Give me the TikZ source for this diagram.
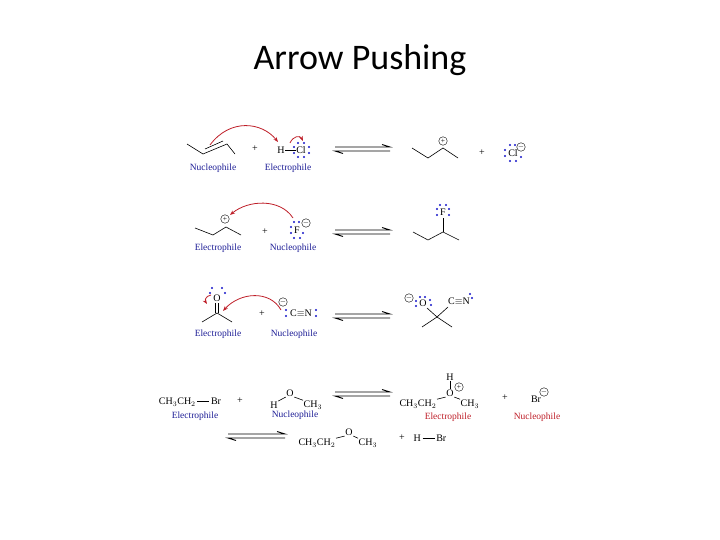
\documentclass[tikz,border=0pt]{standalone}
\usepackage{fontspec}
\setmainfont{Liberation Serif}
\newfontfamily\titlefont{Carlito}
\usetikzlibrary{arrows.meta}
\definecolor{lblue}{RGB}{30,30,150}
\definecolor{dblue}{RGB}{20,20,200}
\definecolor{lred}{RGB}{190,30,40}
\tikzset{
 bond/.style={line width=0.6pt},
 lab/.style={font=\fontsize{9.5}{10}\selectfont, text=lblue, inner sep=0pt},
 rlab/.style={font=\fontsize{9.5}{10}\selectfont, text=lred, inner sep=0pt},
 atm/.style={font=\fontsize{10}{10}\selectfont, inner sep=0.5pt},
 rarr/.style={draw=lred, line width=0.8pt, -{Stealth[length=5pt]}},
 chg/.style={circle, draw, inner sep=0pt, minimum size=8.5pt, font=\fontsize{7.5}{7.5}\selectfont},
}
\newcommand{\eqarr}[3]{%
 \draw[line width=0.9pt] (#1,#3-2) -- (#2,#3-2) -- (#2-8,#3-4.5);
 \draw[line width=0.9pt] (#2,#3+2) -- (#1,#3+2) -- (#1+8,#3+4.5);}
\newcommand{\dt}[2]{\fill[dblue] (#1,#2) circle (1.2pt);}
\begin{document}
\begin{tikzpicture}[x=1pt,y=-1pt]
\useasboundingbox (0,0) rectangle (720,540);
\node[font=\titlefont\fontsize{36}{40}\selectfont] (title) at (360,60) {Arrow Pushing};
% Row 1
\draw[bond] (187,144)--(203,154)--(227,144)--(235,154);
\draw[bond] (205,149)--(223,141);
\node[lab] (n1) at (213,168) {Nucleophile};
\node[atm] (p1) at (255,149) {+};
\node[atm] (h1) at (281,150) {H};
\node[atm] (cl1) at (301,150) {Cl};
\draw[bond] (h1.east)--(cl1.west);
\dt{294}{147}\dt{294}{153}\dt{309}{147}\dt{309}{153}\dt{298}{157}\dt{304}{157}\dt{298}{143}\dt{304}{143}
\node[lab] (e1) at (288,168) {Electrophile};
\draw[rarr] (210,145) .. controls (230,118) and (262,122) .. (278,142);
\draw[rarr] (290,143) .. controls (293,136) and (300,135) .. (303,141);
\eqarr{335}{390}{149}
\draw[bond] (412,148)--(428,158)--(443,148)--(458,158);
\node[chg] (c1) at (443,141) {+};
\node[atm] (p2) at (482,153) {+};
\node[atm] (cl2) at (513,153) {Cl};
\dt{505}{150}\dt{505}{156}\dt{521}{157}\dt{510}{161}\dt{516}{161}\dt{510}{145}\dt{515}{145}
\node[chg] (m1) at (521,147) {$-$};
% Row 2
\draw[bond] (195,228)--(213,235)--(226,227)--(241,235);
\node[chg] (c2) at (225,219) {+};
\node[lab] (e2) at (218,248) {Electrophile};
\node[atm] (p3) at (265,232) {+};
\node[atm] (f1) at (297,230) {F};
\dt{291}{227}\dt{291}{233}\dt{303}{233}\dt{294}{238}\dt{300}{238}\dt{294}{222}\dt{299}{222}
\node[chg] (m2) at (306,223) {$-$};
\node[lab] (n2) at (293,248) {Nucleophile};
\draw[rarr] (293,218) .. controls (280,198) and (248,200) .. (230,215);
\eqarr{335}{390}{232}
\draw[bond] (413,232)--(428,240)--(443,232)--(459,240);
\draw[bond] (443,232)--(443,218);
\node[atm] (f2) at (443,212) {F};
\dt{437}{209}\dt{437}{215}\dt{449}{209}\dt{449}{215}\dt{440}{205}\dt{446}{205}
% Row 3
\draw[bond] (202,322)--(217,313)--(232,322);
\draw[bond] (215.5,313)--(215.5,303); \draw[bond] (218.5,313)--(218.5,303);
\node[atm] (o1) at (217,298) {O};
\dt{210}{293}\dt{212}{288}\dt{222}{288}\dt{225}{293}
\draw[rarr] (211,295) .. controls (205,296) and (205,301) .. (207,304);
\node[lab] (e3) at (218,334) {Electrophile};
\node[atm] (p4) at (262,314) {+};
\node[chg] (m3) at (283,302) {$-$};
\node[atm] (cn) at (301,313) {C$\equiv$N};
\dt{286}{310}\dt{286}{316}\dt{316}{310}\dt{316}{316}
\node[lab] (n3) at (294,334) {Nucleophile};
\draw[rarr] (281,310) .. controls (270,290) and (240,292) .. (223,311);
\eqarr{335}{390}{316}
\draw[bond] (422,327)--(437,317)--(452,327);
\draw[bond] (437,317)--(427,308);
\draw[bond] (437,317)--(448,307);
\node[atm] (o2) at (423,303) {O};
\node[chg] (m4) at (409,298) {$-$};
\dt{416}{301}\dt{416}{306}\dt{420}{297}\dt{425}{297}\dt{430}{300}\dt{431}{305}
\node[atm] (cn2) at (459,301) {C$\equiv$N};
\dt{470}{294}\dt{472}{298}
% Row 4
\node[atm] (r1) at (190,402) {CH$_3$CH$_2$\,\rule[3pt]{12pt}{0.5pt}\,Br};
\node[lab] (e4) at (195,416) {Electrophile};
\node[atm] (p5) at (240,401) {+};
\node[atm] (h4) at (274,405) {H};
\node[atm] (o4) at (290,393) {O};
\node[atm, anchor=west] (me4) at (303,405) {CH$_3$};
\draw[bond] (h4.north east)--(o4.south west); \draw[bond] (o4.south east)--(me4.north west);
\node[lab] (n4) at (295,415) {Nucleophile};
\eqarr{335}{390}{394}
\node[atm, anchor=east] (et5) at (437,404) {CH$_3$CH$_2$};
\node[atm] (o5) at (450,393) {O};
\node[atm, anchor=west] (me5) at (460,404) {CH$_3$};
\node[atm] (h5) at (450,377) {H};
\draw[bond] (et5.north east)--(o5.south west); \draw[bond] (o5.south east)--(me5.north west);
\draw[bond] (h5.south)--(o5.north);
\node[chg] (c5) at (459,387) {+};
\node[rlab] (e5) at (448,417) {Electrophile};
\node[atm] (p6) at (505,398) {+};
\node[atm] (br) at (536,399) {Br};
\node[chg] (m5) at (544,392) {$-$};
\node[rlab] (n5) at (537,417) {Nucleophile};
% Row 5
\eqarr{228}{285}{436}
\node[atm, anchor=east] (et6) at (336,443) {CH$_3$CH$_2$};
\node[atm] (o6) at (349,432) {O};
\node[atm, anchor=west] (me6) at (358,443) {CH$_3$};
\draw[bond] (et6.north east)--(o6.south west); \draw[bond] (o6.south east)--(me6.north west);
\node[atm] (p7) at (402,438) {+};
\node[atm] (hbr) at (430,438) {H\,\rule[3pt]{12pt}{0.5pt}\,Br};
\end{tikzpicture}
\end{document}
